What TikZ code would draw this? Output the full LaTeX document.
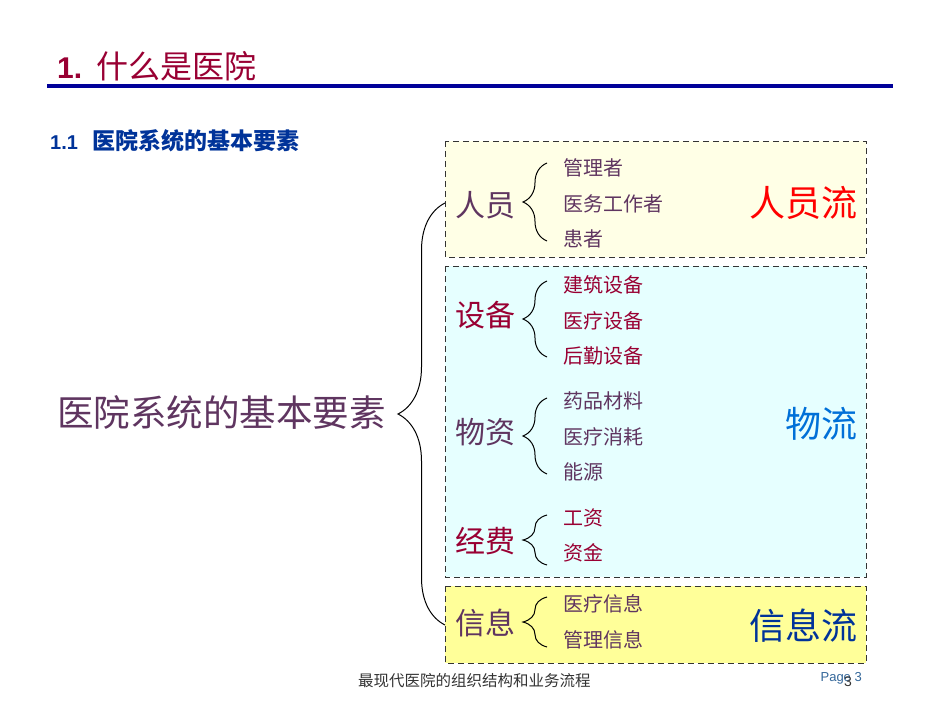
\documentclass[tikz,border=0pt]{standalone}
\usepackage{fontspec}
\setmainfont{Liberation Sans}
\newfontfamily\cjk{Noto Sans CJK SC}
\usepackage{tikz}
\usetikzlibrary{positioning}
\usetikzlibrary{decorations.pathreplacing}
\definecolor{titlered}{HTML}{990033}
\definecolor{rulenavy}{HTML}{000099}
\definecolor{subblue}{HTML}{003399}
\definecolor{plum}{HTML}{5F3560}
\definecolor{wine}{HTML}{990033}
\definecolor{flowred}{HTML}{FF0000}
\definecolor{flowblue}{HTML}{0070D8}
\definecolor{flownavy}{HTML}{003399}
\definecolor{peoplebg}{HTML}{FFFFE6}
\definecolor{goodsbg}{HTML}{E6FFFF}
\definecolor{infobg}{HTML}{FFFF99}
\definecolor{boxline}{HTML}{333333}
\definecolor{footgray}{HTML}{333333}
\definecolor{pageblue}{HTML}{336699}

\begin{document}
\begin{tikzpicture}[x=1pt,y=-1pt,
  txt node/.style={inner sep=0pt,anchor=west},
  item node/.style={txt node,font=\cjk\fontsize{20}{20}\selectfont},
  group node/.style={txt node,font=\cjk\fontsize{30}{30}\selectfont},
  flow node/.style={inner sep=0pt,anchor=east,font=\cjk\fontsize{36}{36}\selectfont},
  flow box/.style={draw=boxline,dash pattern=on 6pt off 4pt,line width=1pt},
  curly/.style={draw,line width=1pt,decorate,decoration={brace,amplitude=#1}}]
					\useasboundingbox (0,0) rectangle (950,713);
					% title and rule
					\node[txt node,text=titlered,font=\fontsize{30}{30}\selectfont] (title) at (57,66) {\textbf{1.}\hspace{14pt}{\cjk\fontsize{32}{32}\selectfont 什么是医院}};
					\coordinate (ruleL) at (47,86);
					\coordinate (ruleR) at (893,86);
					\draw[rulenavy,line width=4pt] (ruleL) -- (ruleR);
					\node[txt node,text=subblue,font=\bfseries\fontsize{20}{20}\selectfont] (sub) at (50,141) {1.1\hspace{14pt}{\cjk\fontsize{23}{23}\selectfont 医院系统的基本要素}};
					% boxes
					\draw[flow box,fill=peoplebg] (445,141) rectangle (866,257);
					\draw[flow box,fill=goodsbg] (445,266) rectangle (866,577);
					\draw[flow box,fill=infobg] (445,586) rectangle (866,663);
					% main label
					\node[txt node,text=plum,font=\cjk\fontsize{36.5}{36.5}\selectfont] (root) at (57,412) {医院系统的基本要素};
					\coordinate (rootTop) at (445,203);
					\coordinate (rootBot) at (445,625);
					\draw[curly=47pt] (rootBot) -- (rootTop);
					% groups
					\node[group node,text=plum] (staff) at (455,205) {人员};
					\node[group node,text=wine] (equip) at (455,315) {设备};
					\node[group node,text=plum] (goods) at (455,432) {物资};
					\node[group node,text=wine] (funds) at (455,541) {经费};
					\node[group node,text=plum] (info) at (455,623) {信息};
					\coordinate (staffTop) at (547,163);
					\coordinate (staffBot) at (547,241);
					\coordinate (equipTop) at (547,281);
					\coordinate (equipBot) at (547,357);
					\coordinate (goodsTop) at (547,398);
					\coordinate (goodsBot) at (547,474);
					\coordinate (fundsTop) at (547,515);
					\coordinate (fundsBot) at (547,565);
					\coordinate (infoTop) at (547,597);
					\coordinate (infoBot) at (547,647);
					\draw[curly=24pt] (staffBot) -- (staffTop);
					\draw[curly=24pt] (equipBot) -- (equipTop);
					\draw[curly=24pt] (goodsBot) -- (goodsTop);
					\draw[curly=24pt] (fundsBot) -- (fundsTop);
					\draw[curly=24pt] (infoBot) -- (infoTop);
					% items
					\node[item node,text=plum] (staffA) at (563,168) {管理者};
					\node[item node,text=plum] (staffB) at (563,204) {医务工作者};
					\node[item node,text=plum] (staffC) at (563,239) {患者};
					\node[item node,text=wine] (equipA) at (563,285) {建筑设备};
					\node[item node,text=wine] (equipB) at (563,321) {医疗设备};
					\node[item node,text=wine] (equipC) at (563,356) {后勤设备};
					\node[item node,text=plum] (goodsA) at (563,401) {药品材料};
					\node[item node,text=plum] (goodsB) at (563,437) {医疗消耗};
					\node[item node,text=plum] (goodsC) at (563,472) {能源};
					\node[item node,text=wine] (fundsA) at (563,518) {工资};
					\node[item node,text=wine] (fundsB) at (563,553) {资金};
					\node[item node,text=plum] (infoA) at (563,604) {医疗信息};
					\node[item node,text=plum] (infoB) at (563,640) {管理信息};
					% flows
					\node[flow node,text=flowred] (staffFlow) at (858,203) {人员流};
					\node[flow node,text=flowblue] (goodsFlow) at (858,424) {物流};
					\node[flow node,text=flownavy] (infoFlow) at (858,626) {信息流};
					% footer
					\node[txt node,text=footgray,font=\cjk\fontsize{15.5}{15.5}\selectfont] (footer) at (358,681) {最现代医院的组织结构和业务流程};
					\node[inner sep=0pt,anchor=east,text=pageblue,font=\fontsize{13}{13}\selectfont] (page) at (862,678) {Page 3};
					\node[inner sep=0pt,text=footgray,font=\fontsize{14}{14}\selectfont] (pageNum) at (848,682) {3};
\end{tikzpicture}
\end{document}
